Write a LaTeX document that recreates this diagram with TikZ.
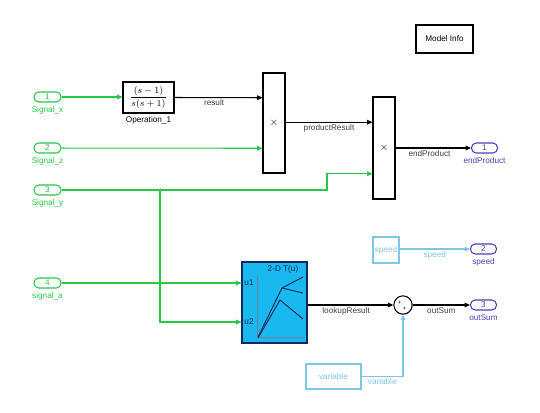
\documentclass[tikz,border=0pt]{standalone}
\usepackage{fontspec}
\setmainfont{Liberation Sans}
\usetikzlibrary{arrows.meta,positioning,calc,shadows}

% Simulink colours
\definecolor{sigGreen}{RGB}{40,200,70}
\definecolor{portBlue}{RGB}{75,65,185}
\definecolor{paleBlue}{RGB}{125,198,232}
\definecolor{lutCyan}{RGB}{25,184,238}
\definecolor{lutNavy}{RGB}{20,40,90}

\tikzset{
  blk/.style={draw, line width=0.9pt, fill=white, inner sep=0pt,
    drop shadow={opacity=0.25, shadow xshift=0.8pt, shadow yshift=-0.8pt}},
  inport/.style={draw=sigGreen, line width=0.9pt, fill=white, rounded corners=4pt,
    minimum width=0.81cm, minimum height=0.3cm, inner sep=0pt, text=sigGreen},
  outport/.style={inport, draw=portBlue, text=portBlue, minimum width=0.78cm},
  inlabel/.style={text=sigGreen, inner sep=0pt},
  outlabel/.style={text=portBlue, inner sep=0pt},
  elabel/.style={below=1.5pt, text=black!75, inner sep=0pt},
  line/.style={line width=0.9pt, -{Triangle[length=4.6pt,width=4pt]}},
  sig/.style={line, draw=sigGreen},
  paleline/.style={line, draw=paleBlue},
}

\begin{document}
\begin{tikzpicture}[x=0.03cm, y=-0.03cm, font=\fontsize{7}{8}\selectfont]
\useasboundingbox (0,0) rectangle (540,412);

% Model info box
\node[blk, minimum width=1.71cm, minimum height=0.84cm] (info) at (444.5,39) {Model Info};

% Inports
\node[inport] (inX) at (47.5,97) {1};
\node[inlabel, below=3pt of inX] {Signal\_x};
\node[inport] (inZ) at (47.5,148) {2};
\node[inlabel, below=3pt of inZ] {Signal\_z};
\node[inport] (inY) at (47.5,190) {3};
\node[inlabel, below=3pt of inY] {Signal\_y};
\node[inport] (inA) at (47.5,283) {4};
\node[inlabel, below=3pt of inA] {signal\_a};

% Transfer function
\node[blk, minimum width=1.53cm, minimum height=0.93cm] (tf) at (148.5,97.5)
  {\fontsize{8}{9}\selectfont$\displaystyle\frac{(s-1)}{s(s+1)}$};
\node[below=2pt of tf, inner sep=0pt] {Operation\_1};

% Products
\node[blk, minimum width=0.66cm, minimum height=3cm] (prod1) at (274,123) {\fontsize{9}{9}\selectfont$\times$};
\node[blk, minimum width=0.66cm, minimum height=3.06cm] (prod2) at (384,148) {\fontsize{9}{9}\selectfont$\times$};

% Lookup table
\node[blk, fill=lutCyan, draw=lutNavy, minimum width=1.95cm, minimum height=2.43cm] (lut) at (274.5,302.5) {};
\node[text=lutNavy, inner sep=0pt] at (283,269) {2-D T(u)};
\node[text=lutNavy, inner sep=0pt] at (249,283) {u1};
\node[text=lutNavy, inner sep=0pt] at (249,322) {u2};
\draw[lutNavy!60, line width=0.4pt] (257,276) -- (257,337) -- (304,337);
\draw[lutNavy, line width=0.8pt] (258,337) -- (282,288) -- (303,277);
\draw[lutNavy, line width=0.8pt] (282,288) -- (303,293);
\draw[lutNavy, line width=0.8pt] (258,338) -- (280,300) -- (303,319);

% Sum
\node[blk, circle, minimum size=0.55cm] (sum) at (403,305) {};
\node[inner sep=0pt, font=\fontsize{5}{5}\selectfont] at (399.5,303) {+};
\node[inner sep=0pt, font=\fontsize{5}{5}\selectfont] at (404.5,308.5) {+};

% Workspace style sources
\node[blk, draw=paleBlue, text=paleBlue, minimum width=0.78cm, minimum height=0.78cm] (speed) at (386,250) {speed};
\node[blk, draw=paleBlue, text=paleBlue, minimum width=1.65cm, minimum height=0.75cm] (var) at (333.5,376.5) {variable};

% Outports
\node[outport] (outP) at (484.5,148) {1};
\node[outlabel, below=3pt of outP] {endProduct};
\node[outport] (outS) at (483.5,249) {2};
\node[outlabel, below=3pt of outS] {speed};
\node[outport] (outU) at (483.5,305) {3};
\node[outlabel, below=3pt of outU] {outSum};

% Signals
\coordinate (p1a) at ($(prod1.north west)!0.25!(prod1.south west)$);
\coordinate (p1b) at ($(prod1.north west)!0.75!(prod1.south west)$);
\coordinate (p2a) at ($(prod2.north west)!0.25!(prod2.south west)$);
\coordinate (p2b) at ($(prod2.north west)!0.75!(prod2.south west)$);
\coordinate (lu1) at (lut.west |- inA);
\coordinate (jn) at (160,190);

\draw[sig] (inX) -- (tf.west |- inX);
\draw[line] (tf.east) -- node[elabel, pos=0.45] {result} (p1a);
\draw[sig] (inZ) -- (p1b);
\draw[line] (prod1.east |- p2a) -- node[elabel] {productResult} (p2a);
\draw[sig] (inY) -- (jn) -- (327,190) |- (p2b);
\draw[sig] (jn) |- (lut.west |- 0,322);
\fill[sigGreen] (jn) circle (1.5pt);
\draw[sig] (inA) -- (lu1);
\draw[line] (prod2.east) -- node[elabel, pos=0.45] {endProduct} (outP);
\draw[line] (lut.east |- sum) -- node[elabel, pos=0.45] {lookupResult} (sum);
\draw[line] (sum) -- node[elabel] {outSum} (outU);
\draw[paleline] (speed.east |- outS) -- node[elabel, text=paleBlue] {speed} (outS);
\draw[paleline] (var.east) -- node[elabel, text=paleBlue] {variable} (sum.south |- var.east) -- (sum.south);

\end{tikzpicture}
\end{document}
